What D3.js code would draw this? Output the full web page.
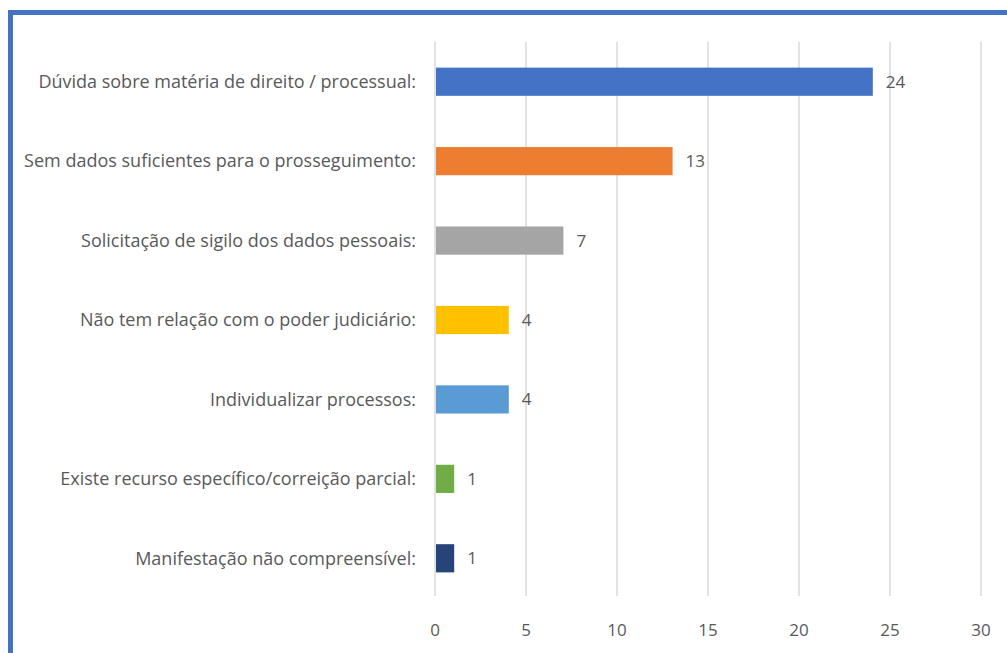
<!DOCTYPE html>
<html>
<head>
<meta charset="utf-8">
<script src="https://cdn.jsdelivr.net/npm/d3@7"></script>
<style>
  body { margin: 0; background: #fff; }
  svg { display: block; }
</style>
</head>
<body>
<div id="chart"></div>
<script>
// Motivos de arquivamento - horizontal bars
const categories = [
    'Dúvida sobre matéria de direito / processual:',
    'Sem dados suficientes para o prosseguimento:',
    'Solicitação de sigilo dos dados pessoais:',
    'Não tem relação com o poder judiciário:',
    'Individualizar processos:',
    'Existe recurso específico/correição parcial:',
    'Manifestação não compreensível:'
];
const values = [24, 13, 7, 4, 4, 1, 1];
const barColors = ['#4472C4', '#ED7D31', '#A5A5A5', '#FFC000', '#5B9BD5', '#70AD47', '#264478'];
const xTicks = [0, 5, 10, 15, 20, 25, 30];

const width = 1007;
const height = 653;
const fontFamily = "'Open Sans', 'Liberation Sans', sans-serif";

const svg = d3.select('#chart')
    .append('svg')
    .attr('width', width)
    .attr('height', height);

// Frame (only top and left edges visible in the crop)
svg.append('rect')
    .attr('x', 10.5)
    .attr('y', 12.5)
    .attr('width', 1100)
    .attr('height', 800)
    .attr('fill', 'none')
    .attr('stroke', '#4472C4')
    .attr('stroke-width', 5);

const x = d3.scaleLinear()
    .domain([0, 30])
    .range([435, 981]);

const y = d3.scaleBand()
    .domain(categories)
    .range([42, 598])
    .paddingInner(0.645)
    .paddingOuter(0.3225);

// Gridlines
svg.append('g')
    .selectAll('line')
    .data(xTicks)
    .enter()
    .append('line')
    .attr('x1', d => x(d))
    .attr('x2', d => x(d))
    .attr('y1', 42)
    .attr('y2', 596)
    .attr('stroke', '#d9d9d9')
    .attr('stroke-width', 1.5);

// Tick labels
svg.append('g')
    .selectAll('text')
    .data(xTicks)
    .enter()
    .append('text')
    .attr('x', d => x(d))
    .attr('y', 630)
    .attr('dy', '0.35em')
    .attr('text-anchor', 'middle')
    .attr('font-family', fontFamily)
    .attr('font-size', '17px')
    .attr('fill', '#595959')
    .text(d => d);

// Bars
svg.append('g')
    .selectAll('rect')
    .data(values)
    .enter()
    .append('rect')
    .attr('x', x(0) + 1)
    .attr('y', (d, i) => y(categories[i]))
    .attr('width', d => x(d) - x(0))
    .attr('height', y.bandwidth())
    .attr('fill', (d, i) => barColors[i]);

// Category labels
svg.append('g')
    .selectAll('text')
    .data(categories)
    .enter()
    .append('text')
    .attr('x', 416)
    .attr('y', d => y(d) + y.bandwidth() / 2)
    .attr('dy', '0.35em')
    .attr('text-anchor', 'end')
    .attr('font-family', fontFamily)
    .attr('font-size', '18px')
    .attr('fill', '#595959')
    .text(d => d);

// Value labels
svg.append('g')
    .selectAll('text')
    .data(values)
    .enter()
    .append('text')
    .attr('x', d => x(d) + 14)
    .attr('y', (d, i) => y(categories[i]) + y.bandwidth() / 2)
    .attr('dy', '0.35em')
    .attr('font-family', fontFamily)
    .attr('font-size', '17px')
    .attr('fill', '#595959')
    .text(d => d);
</script>
</body>
</html>
